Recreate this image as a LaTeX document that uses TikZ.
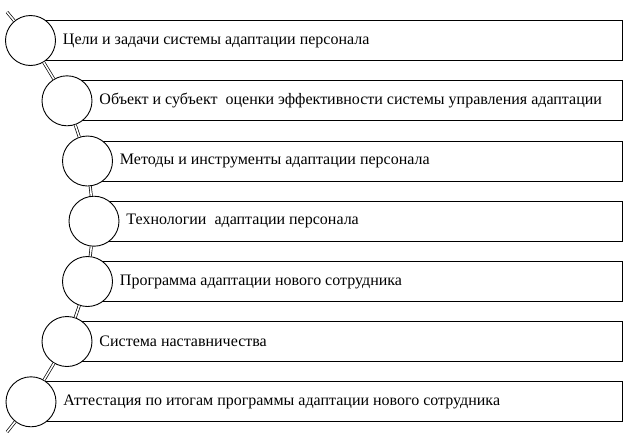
\documentclass[tikz,border=0pt]{standalone}
\usepackage{fontspec}
\setmainfont{Liberation Serif}
\begin{document}
\begin{tikzpicture}[x=1pt,y=-1pt,line width=0.9pt,
  bar/.style={draw, rectangle, anchor=west, minimum height=40pt, inner sep=0pt},
  ring/.style={draw, circle, fill=white, minimum size=50pt, inner sep=0pt},
  lbl/.style={anchor=west, inner sep=0pt, font=\fontsize{16}{18}\selectfont},
  link/.style={double, double distance=1.6pt, line width=0.7pt}]
\useasboundingbox (0,0) rectangle (628,442);
\foreach \i/\cx/\cy/\t in {
  1/30.5/40.5/{Цели и задачи системы адаптации персонала},
  2/67/100.8/{Объект и субъект\ \ оценки эффективности системы управления адаптации},
  3/87.5/161/{Методы и инструменты адаптации персонала},
  4/94/221.2/{Технологии\ \ адаптации персонала},
  5/87.5/281.5/{Программа адаптации нового сотрудника},
  6/67/341.5/{Система наставничества},
  7/31/401.8/{Аттестация по итогам программы адаптации нового сотрудника}}{
  \node[bar, minimum width={622-\cx}] (r\i) at (\cx,\cy) {};
  \node[ring] (c\i) at (\cx,\cy) {};
  \node[lbl] (t\i) at (\cx+32,\cy) {\t};
}
\coordinate (top) at (7,12);
\coordinate (bot) at (7,432);
\draw[link] (top) -- (c1);
\draw[link] (c1) -- (c2);
\draw[link] (c2) -- (c3);
\draw[link] (c3) -- (c4);
\draw[link] (c4) -- (c5);
\draw[link] (c5) -- (c6);
\draw[link] (c6) -- (c7);
\draw[link] (c7) -- (bot);
\end{tikzpicture}
\end{document}
